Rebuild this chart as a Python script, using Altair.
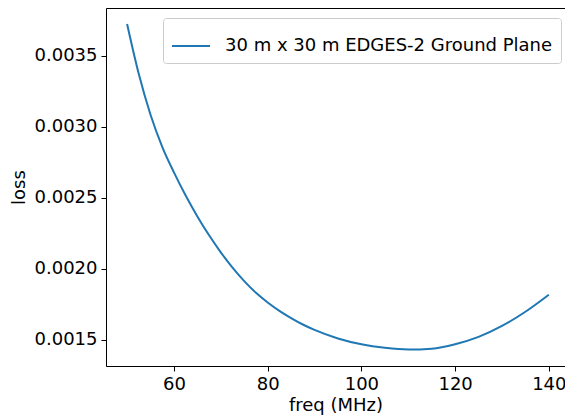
import altair as alt
import pandas as pd

freq = [50, 52.5, 55, 57.5, 60, 62.5, 65, 67.5, 70, 72.5, 75, 77.5, 80, 82.5, 85, 87.5, 90, 95, 100, 105, 110, 115, 120, 125, 130, 135, 140]
loss = [0.003723, 0.003370, 0.003084, 0.002858, 0.002678, 0.002515, 0.002368, 0.002235, 0.002115, 0.002007,
        0.001912, 0.001830, 0.001762, 0.001703, 0.001652, 0.001607, 0.001569, 0.001509, 0.001468, 0.001443,
        0.001431, 0.001437, 0.001468, 0.001520, 0.001597, 0.001697, 0.001817]
series = ["30 m x 30 m EDGES-2 Ground Plane"] * len(freq)

df = pd.DataFrame({"freq": freq, "loss": loss, "series": series})

FONT = "DejaVu Sans"
FS = 18

xscale = alt.Scale(domain=[45.5, 143.45], nice=False, zero=False)
yscale = alt.Scale(domain=[0.001315, 0.003835], nice=False, zero=False)

line = alt.Chart(df).mark_line(strokeWidth=2, interpolate="monotone").encode(
    x=alt.X("freq:Q", scale=xscale,
            axis=alt.Axis(title="freq (MHz)", values=[60, 80, 100, 120, 140], format="d",
                          grid=False, tickSize=5, labelPadding=4, titlePadding=3,
                          domainColor="black", tickColor="black", labelColor="black",
                          titleColor="black", labelFont=FONT, titleFont=FONT,
                          labelFontSize=FS, titleFontSize=FS, titleFontWeight="normal")),
    y=alt.Y("loss:Q", scale=yscale,
            axis=alt.Axis(title="loss", values=[0.0015, 0.002, 0.0025, 0.003, 0.0035], format=".4f",
                          grid=False, tickSize=5, labelPadding=4, titlePadding=6,
                          domainColor="black", tickColor="black", labelColor="black",
                          titleColor="black", labelFont=FONT, titleFont=FONT,
                          labelFontSize=FS, titleFontSize=FS, titleFontWeight="normal")),
    color=alt.Color("series:N", scale=alt.Scale(range=["#1f77b4"]),
                    legend=alt.Legend(title=None, orient="none", legendX=57, legendY=10,
                                      symbolType="stroke", symbolSize=1444, symbolStrokeWidth=2,
                                      labelFont=FONT, labelFontSize=FS, labelColor="black",
                                      labelLimit=500, labelOffset=14, padding=8, fillColor="white",
                                      strokeColor="#cccccc", cornerRadius=3)),
)

top = alt.Chart(df).mark_line(opacity=0).encode(
    x=alt.X("freq:Q", scale=xscale,
            axis=alt.Axis(orient="top", title=None, labels=False, ticks=False, grid=False,
                          domainColor="black")),
    y=alt.Y("loss:Q", scale=yscale, axis=None),
)

chart = alt.layer(line, top).resolve_axis(x="independent", y="independent").properties(
    width=459, height=358,
    autosize=alt.AutoSizeParams(type="none"),
    padding={"left": 106, "top": 8, "right": 0, "bottom": 49},
).configure_view(stroke=None).configure(background="white")

chart.save("out.html", embed_options={"renderer": "svg", "actions": False})
